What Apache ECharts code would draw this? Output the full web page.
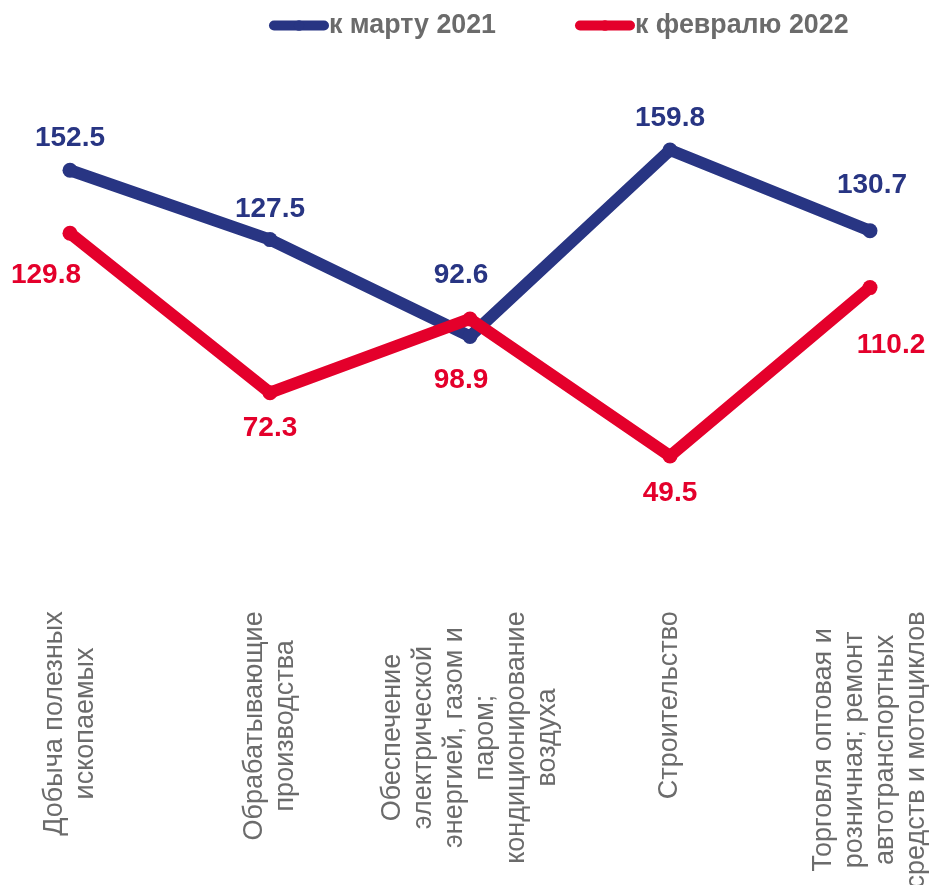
<!DOCTYPE html>
<html>
<head>
<meta charset="utf-8">
<script src="https://cdn.jsdelivr.net/npm/echarts@6/dist/echarts.min.js"></script>
<style>
html,body{margin:0;padding:0;background:#fff;}
#chart{width:929px;height:885px;}
</style>
</head>
<body>
<div id="chart"></div>
<script>
const categories = [
  'Добыча полезных\nископаемых',
  'Обрабатывающие\nпроизводства',
  'Обеспечение\nэлектрической\nэнергией, газом и\nпаром;\nкондиционирование\nвоздуха',
  'Строительство',
  'Торговля оптовая и\nрозничная; ремонт\nавтотранспортных\nсредств и мотоциклов'
];
const seriesNames = ['к марту 2021', 'к февралю 2022'];
const march2021 = [152.5, 127.5, 92.6, 159.8, 130.7];
const feb2022 = [129.8, 72.3, 98.9, 49.5, 110.2];

// label offsets (px) relative to each point
const blueLabelOffsets = [[0, -32], [0, -30], [-9, -61], [0, -32], [2, -45]];
const redLabelOffsets = [[-24, 42], [0, 36], [-9, 61], [0, 37], [21, 58]];

const BLUE = '#283583';
const RED = '#E4002B';
const FONT = '"Liberation Sans", Arial, sans-serif';

function buildData(values, offsets) {
  return values.map((v, i) => ({
    value: v,
    label: { offset: offsets[i] }
  }));
}

const chart = echarts.init(document.getElementById('chart'), null, { renderer: 'canvas' });
chart.setOption({
  backgroundColor: '#ffffff',
  animation: false,
  legend: {
    left: 264,
    top: 7,
    itemWidth: 50,
    itemHeight: 13,
    itemGap: 79,
    lineStyle: { width: 10, cap: 'round' },
    textStyle: { color: '#6b6b6b', fontSize: 26.8, fontWeight: 'bold', fontFamily: FONT },
    data: seriesNames
  },
  grid: { left: 70, right: 59, top: 38.5, bottom: 291.7, containLabel: false, outerBoundsMode: 'none' },
  xAxis: {
    type: 'category',
    data: categories,
    boundaryGap: false,
    axisLine: { show: false },
    axisTick: { show: false },
    splitLine: { show: false },
    axisLabel: {
      interval: 0,
      rotate: 90,
      margin: 18,
      color: '#6b6b6b',
      fontSize: 27,
      fontFamily: FONT,
      lineHeight: 31,
      formatter: function (val) {
        return val.split('\n').map(l => '{c|' + l + '}').join('\n');
      },
      rich: {
        c: { align: 'center', color: '#6b6b6b', fontSize: 27, fontFamily: FONT, lineHeight: 31 }
      }
    }
  },
  yAxis: {
    type: 'value',
    min: 0,
    max: 200,
    show: false
  },
  series: [
    {
      name: seriesNames[0],
      type: 'line',
      data: buildData(march2021, blueLabelOffsets),
      symbol: 'circle',
      symbolSize: 15,
      itemStyle: { color: BLUE },
      lineStyle: { color: BLUE, width: 12, cap: 'round', join: 'round' },
      label: {
        show: true,
        position: 'inside',
        color: BLUE,
        fontSize: 28,
        fontWeight: 'bold',
        fontFamily: FONT,
        formatter: p => p.value.toFixed(1)
      },
      emphasis: { disabled: true }
    },
    {
      name: seriesNames[1],
      type: 'line',
      data: buildData(feb2022, redLabelOffsets),
      symbol: 'circle',
      symbolSize: 15,
      itemStyle: { color: RED },
      lineStyle: { color: RED, width: 12, cap: 'round', join: 'round' },
      label: {
        show: true,
        position: 'inside',
        color: RED,
        fontSize: 28,
        fontWeight: 'bold',
        fontFamily: FONT,
        formatter: p => p.value.toFixed(1)
      },
      emphasis: { disabled: true }
    }
  ]
});
</script>
</body>
</html>
